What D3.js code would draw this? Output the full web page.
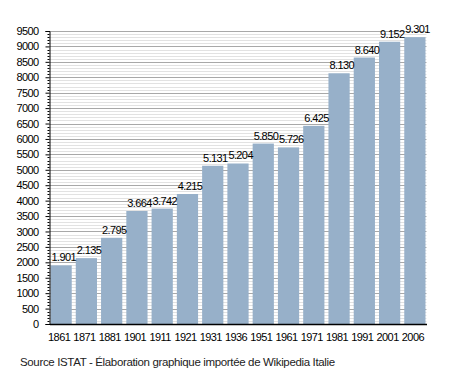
<html>
<head>
    <script src="https://d3js.org/d3.v7.min.js"></script>
    <style>
        body { margin: 0; background: #fff; }
        text { font-family: "Liberation Sans", Arial, sans-serif; fill: #000; }
        .tick-label, .year, .value { font-size: 11px; letter-spacing: -0.6px; }
        .source { font-size: 11.5px; fill: #222; letter-spacing: -0.35px; }
    </style>
</head>
<body>
    <svg id="chart" width="455" height="373"></svg>
    <script>
        const years = ["1861", "1871", "1881", "1901", "1911", "1921", "1931", "1936", "1951", "1961", "1971", "1981", "1991", "2001", "2006"];
        const population = [1901, 2135, 2795, 3664, 3742, 4215, 5131, 5204, 5850, 5726, 6425, 8130, 8640, 9152, 9301];
        const valueLabels = ["1.901", "2.135", "2.795", "3.664", "3.742", "4.215", "5.131", "5.204", "5.850", "5.726", "6.425", "8.130", "8.640", "9.152", "9.301"];
        const majorTicks = d3.range(0, 9501, 500);
        const minorTicks = d3.range(0, 9501, 100);
        const sourceText = "Source ISTAT - Élaboration graphique importée de Wikipedia Italie";

        const data = years.map((y, i) => ({ year: y, value: population[i], label: valueLabels[i] }));

        const svg = d3.select("#chart");
        const plotLeft = 49.5, plotRight = 426.5, plotTop = 31, plotBottom = 324;

        const x = d3.scaleBand().domain(years).range([plotLeft, plotRight])
            .paddingInner(0.16).paddingOuter(0.04);
        const y = d3.scaleLinear().domain([0, 9500]).range([plotBottom, plotTop]);

        // gridlines: light every 100, darker every 500
        svg.append("g").selectAll("line")
            .data(minorTicks.filter(d => d % 500 !== 0))
            .join("line")
            .attr("x1", plotLeft).attr("x2", plotRight)
            .attr("y1", d => Math.round(y(d)) + 0.5).attr("y2", d => Math.round(y(d)) + 0.5)
            .attr("stroke", "#e2e2e2");
        svg.append("g").selectAll("line")
            .data(majorTicks.filter(d => d > 0))
            .join("line")
            .attr("x1", plotLeft).attr("x2", plotRight)
            .attr("y1", d => Math.round(y(d)) + 0.5).attr("y2", d => Math.round(y(d)) + 0.5)
            .attr("stroke", "#a8a8a8");

        // bars
        svg.append("g").selectAll("rect")
            .data(data)
            .join("rect")
            .attr("x", d => x(d.year))
            .attr("y", d => y(d.value))
            .attr("width", x.bandwidth())
            .attr("height", d => y(0) - y(d.value))
            .attr("fill", "#97b0c9");

        // value labels
        svg.append("g").selectAll("text")
            .data(data)
            .join("text")
            .attr("class", "value")
            .attr("x", d => x(d.year) + 1)
            .attr("y", d => y(d.value) - 4)
            .text(d => d.label);

        // y axis
        const yAxis = d3.axisLeft(y).tickValues(majorTicks).tickFormat(d3.format("d"))
            .tickSize(4).tickPadding(7);
        const ya = svg.append("g").attr("transform", `translate(${plotLeft},0)`).call(yAxis);
        ya.attr("font-family", null).attr("font-size", null);
        ya.select(".domain").attr("stroke", "#000");
        ya.selectAll(".tick line").attr("stroke", "#000");
        ya.selectAll(".tick text").attr("class", "tick-label");
        svg.append("g").selectAll("line")
            .data(minorTicks.filter(d => d % 500 !== 0))
            .join("line")
            .attr("x1", plotLeft - 2).attr("x2", plotLeft)
            .attr("y1", d => Math.round(y(d)) + 0.5).attr("y2", d => Math.round(y(d)) + 0.5)
            .attr("stroke", "#000");

        // x axis
        const xAxis = d3.axisBottom(x).tickSize(0).tickPadding(9);
        const xa = svg.append("g").attr("transform", `translate(0,${plotBottom})`).call(xAxis);
        xa.attr("font-family", null).attr("font-size", null);
        xa.select(".domain").attr("stroke", "#000").attr("stroke-width", 1.5);
        xa.selectAll(".tick text").attr("class", "year").attr("dx", -2);

        // source
        svg.append("text")
            .attr("class", "source")
            .attr("x", 20)
            .attr("y", 366)
            .text(sourceText);
    </script>
</body>
</html>
